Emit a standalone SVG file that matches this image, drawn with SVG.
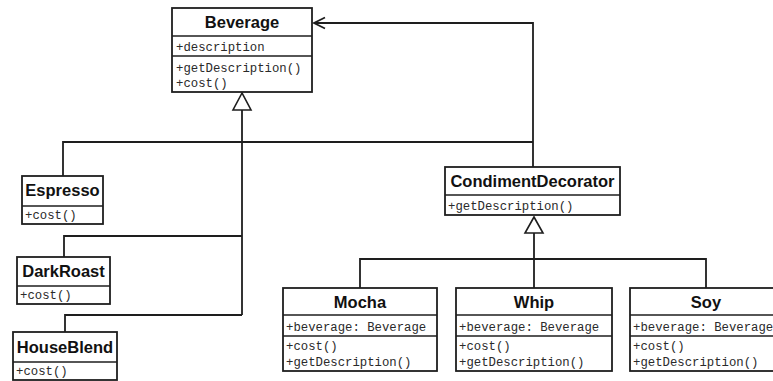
<svg xmlns="http://www.w3.org/2000/svg" width="773" height="381" viewBox="0 0 773 381">
  <style>
    .box { fill: #ffffff; stroke: #1e1e1e; stroke-width: 1.8; }
    .div { stroke: #1e1e1e; stroke-width: 1.6; }
    .name { font-family: "Liberation Sans", Arial, sans-serif; font-weight: bold; font-size: 16.5px; fill: #111; text-anchor: middle; }
    .mem { font-family: "Liberation Mono", "Courier New", monospace; font-size: 12.3px; fill: #2a2a2a; }
    .wire { fill: none; stroke: #1e1e1e; stroke-width: 1.8; }
    .tri { fill: #ffffff; stroke: #1e1e1e; stroke-width: 1.6; }
  </style>

  <rect width="773" height="381" fill="#ffffff"/>

  <!-- connectors -->
  <g id="connectors">
    <!-- inheritance into Beverage -->
    <path class="wire" d="M63,176 V142 H533"/>
    <path class="wire" d="M242,110 V315"/>
    <path class="wire" d="M64,257 V236 H242"/>
    <path class="wire" d="M65,332 V315 H242"/>
    <polygon class="tri" points="242,93 233,110 251,110"/>
    <!-- CondimentDecorator holds a Beverage -->
    <path class="wire" d="M533,167 V23 H314"/>
    <path class="wire" d="M325,17.5 L314,23 L325,28.5"/>
    <!-- inheritance into CondimentDecorator -->
    <path class="wire" d="M534,233 V288"/>
    <path class="wire" d="M360,288 V259 H706 V288"/>
    <polygon class="tri" points="534,217 525,233 543,233"/>
  </g>

  <g id="beverage">
    <rect class="box" x="172" y="8" width="140" height="84"/>
    <line class="div" x1="172" y1="36" x2="312" y2="36"/>
    <line class="div" x1="172" y1="56" x2="312" y2="56"/>
    <text class="name" x="242" y="28">Beverage</text>
    <text class="mem" x="176" y="51">+description</text>
    <text class="mem" x="176" y="72">+getDescription()</text>
    <text class="mem" x="176" y="87">+cost()</text>
  </g>

  <g id="espresso">
    <rect class="box" x="22" y="176" width="81" height="48"/>
    <line class="div" x1="22" y1="206" x2="103" y2="206"/>
    <text class="name" x="62.5" y="196">Espresso</text>
    <text class="mem" x="25" y="219">+cost()</text>
  </g>

  <g id="darkroast">
    <rect class="box" x="17" y="257" width="93" height="47"/>
    <line class="div" x1="17" y1="286" x2="110" y2="286"/>
    <text class="name" x="63.5" y="277">DarkRoast</text>
    <text class="mem" x="20" y="299">+cost()</text>
  </g>

  <g id="houseblend">
    <rect class="box" x="13" y="332" width="104" height="48"/>
    <line class="div" x1="13" y1="362" x2="117" y2="362"/>
    <text class="name" x="65" y="353">HouseBlend</text>
    <text class="mem" x="16" y="375">+cost()</text>
  </g>

  <g id="condimentdecorator">
    <rect class="box" x="445" y="167" width="175" height="48"/>
    <line class="div" x1="445" y1="195" x2="620" y2="195"/>
    <text class="name" x="532.5" y="187">CondimentDecorator</text>
    <text class="mem" x="448" y="210">+getDescription()</text>
  </g>

  <g id="mocha">
    <rect class="box" x="283" y="288" width="154" height="83"/>
    <line class="div" x1="283" y1="315" x2="437" y2="315"/>
    <line class="div" x1="283" y1="336" x2="437" y2="336"/>
    <text class="name" x="360" y="308">Mocha</text>
    <text class="mem" x="286" y="331">+beverage: Beverage</text>
    <text class="mem" x="286" y="350">+cost()</text>
    <text class="mem" x="286" y="366">+getDescription()</text>
  </g>

  <g id="whip">
    <rect class="box" x="456" y="288" width="156" height="83"/>
    <line class="div" x1="456" y1="315" x2="612" y2="315"/>
    <line class="div" x1="456" y1="336" x2="612" y2="336"/>
    <text class="name" x="534" y="308">Whip</text>
    <text class="mem" x="459" y="331">+beverage: Beverage</text>
    <text class="mem" x="459" y="350">+cost()</text>
    <text class="mem" x="459" y="366">+getDescription()</text>
  </g>

  <g id="soy">
    <rect class="box" x="630" y="288" width="154" height="83"/>
    <line class="div" x1="630" y1="315" x2="784" y2="315"/>
    <line class="div" x1="630" y1="336" x2="784" y2="336"/>
    <text class="name" x="706" y="308">Soy</text>
    <text class="mem" x="633" y="331">+beverage: Beverage</text>
    <text class="mem" x="633" y="350">+cost()</text>
    <text class="mem" x="633" y="366">+getDescription()</text>
  </g>
</svg>
